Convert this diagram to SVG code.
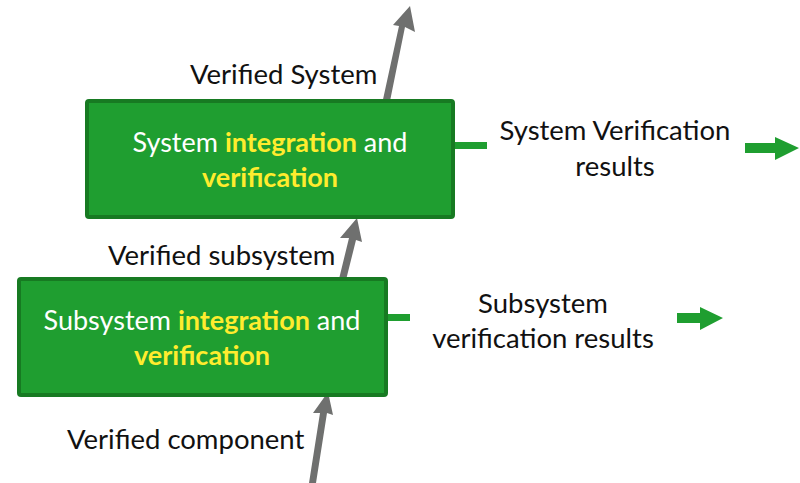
<svg xmlns="http://www.w3.org/2000/svg" width="800" height="483" viewBox="0 0 800 483">
<style>
.box{fill:#1f9e30;stroke:#177a22;stroke-width:4}
.t{font-family:Lato,"Liberation Sans",sans-serif;font-size:27.5px;fill:#111}
.bt{font-family:Lato,"Liberation Sans",sans-serif;font-size:27px;fill:#fff;text-anchor:middle}
.y{fill:#ffec2e;font-weight:bold}
.g{fill:#6f706f}
.gr{fill:#1f9e30}
</style>
<rect width="800" height="483" fill="#fff"/>
<g id="connectors">
<polygon class="g" points="382,104 389,106 405,27 415,32 410,6 393,25 399,26"/>
<polygon class="g" points="339,279 346,280 356,240 362,242 357,218 340,238 349,238"/>
<polygon class="g" points="309,483 316,483 327,413 333,415 328,392 313,413 320,413"/>
<rect class="gr" x="454" y="142" width="33" height="7"/>
<polygon class="gr" points="745,143 775,143 775,137 799,148 775,160 775,153 745,153"/>
<rect class="gr" x="387" y="314" width="23" height="7"/>
<polygon class="gr" points="677,313 700,313 700,307 723,318 700,330 700,323 677,323"/>
</g>
<g id="system">
<rect class="box" x="87" y="101" width="366" height="116" rx="2"/>
<text class="bt" x="270" y="152">System <tspan class="y">integration</tspan> and</text>
<text class="bt" x="270" y="187"><tspan class="y">verification</tspan></text>
</g>
<g id="subsystem">
<rect class="box" x="19" y="279" width="367" height="116" rx="2"/>
<text class="bt" x="202" y="330">Subsystem <tspan class="y">integration</tspan> and</text>
<text class="bt" x="202" y="365"><tspan class="y">verification</tspan></text>
</g>
<g id="labels">
<text class="t" x="190" y="84">Verified System</text>
<text class="t" x="615" y="140" text-anchor="middle">System Verification</text>
<text class="t" x="615" y="176" text-anchor="middle">results</text>
<text class="t" x="108" y="265">Verified subsystem</text>
<text class="t" x="543" y="313" text-anchor="middle">Subsystem</text>
<text class="t" x="543" y="348" text-anchor="middle">verification results</text>
<text class="t" x="67" y="449">Verified component</text>
</g>
</svg>
